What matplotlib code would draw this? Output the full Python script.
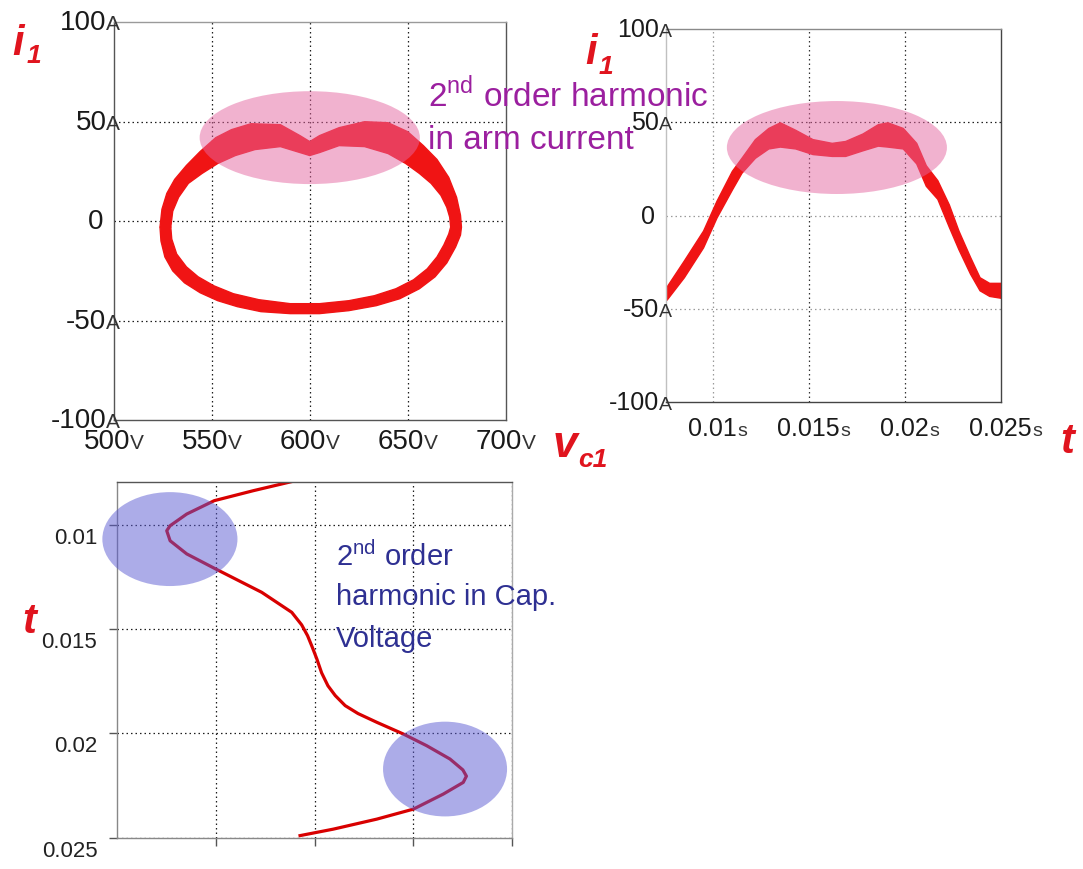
import matplotlib
matplotlib.use("Agg")
import matplotlib.pyplot as plt
from matplotlib.patches import Ellipse
from matplotlib.offsetbox import TextArea, HPacker, AnnotationBbox

plt.rcParams["font.family"] = ["Liberation Sans", "DejaVu Sans"]

W, H = 1083, 870

# i1 against vc1: edges of the ripple band, upper half (i > 0) and lower half
up_outer_v = [523.5, 524.5, 527, 531, 537, 544, 552, 560, 570, 585, 595, 600, 605, 615, 628, 640, 650, 658, 665, 671, 675, 677, 677.5]
up_outer_i = [-3, 6, 14, 21, 28, 35, 42, 46, 49, 48.5, 43, 40, 43, 47, 50, 49.5, 45, 38, 31, 22, 12, 3, -3]
up_inner_v = [529, 530, 533, 538, 545, 553, 562, 572, 585, 595, 600, 605, 615, 628, 640, 649, 656, 662, 667, 670, 671.5, 672]
up_inner_i = [-3, 5, 12, 19, 24, 29, 33, 36, 37.5, 34.5, 33, 34.5, 38, 37.5, 34, 29, 24, 19, 13, 7, 2, -3]
low_outer_v = [523.5, 524, 526, 530, 536, 544, 553, 563, 575, 590, 605, 620, 634, 646, 656, 664, 670, 674.5, 677, 677.5]
low_outer_i = [-3, -10, -18, -25, -31, -36, -40, -43, -45.5, -46.5, -46.5, -45, -42.5, -39, -34, -28, -21, -13, -7, -3]
low_inner_v = [529, 529.5, 532, 537, 543, 551, 561, 574, 590, 605, 620, 633, 644, 653, 660, 665, 668.5, 671, 672]
low_inner_i = [-3, -9, -16.5, -23, -28, -32.5, -36.5, -39.5, -41.5, -41.5, -40, -37.5, -34, -29.5, -24, -18, -12, -6.5, -3]

# i1 against time: top / bottom of the ripple band
t_arm = [0.0076, 0.0085, 0.0095, 0.0102, 0.0110, 0.0115, 0.0122, 0.0129, 0.0135, 0.0143, 0.0152, 0.0162,
         0.0169, 0.0178, 0.0186, 0.0191, 0.0199, 0.0206, 0.0211, 0.0217, 0.0223, 0.0228, 0.0234, 0.0239, 0.0244, 0.0250]
i_arm_hi = [-38, -24, -8, 8, 24, 31, 41, 47, 50, 46, 41, 39, 40, 44, 49, 50, 47, 39, 27, 19, 6, -8, -22, -33, -36, -36]
i_arm_lo = [-45, -33, -17, -1, 14, 23, 31, 36, 37, 36, 33, 32, 32, 35, 37.5, 37, 36, 28, 16, 9, -6, -18, -31, -40, -43, -44]

# capacitor voltage against time
t_cap = [0.00784, 0.00837, 0.00885, 0.00949, 0.01005, 0.01029, 0.01077, 0.0114, 0.01212, 0.01324, 0.0142,
         0.0148, 0.01532, 0.0159, 0.01644, 0.0171, 0.01772, 0.01819, 0.01867, 0.01905, 0.01947, 0.02003,
         0.02059, 0.02123, 0.02175, 0.02205, 0.02235, 0.02291, 0.02363, 0.02411, 0.02459, 0.0249]
v_cap = [592.7, 569.1, 549.3, 535.4, 527.0, 525.3, 527.0, 535.4, 550.0, 573.3, 588.5,
         593.5, 596.5, 599.0, 601.2, 603.6, 606.8, 610.5, 615.5, 622.0, 631.5, 644.9,
         656.7, 668.5, 675.0, 676.8, 675.2, 665.1, 650.0, 631.5, 609.5, 592.7]

v_ticks = [500, 550, 600, 650, 700]
i_ticks = [100, 50, 0, -50, -100]
t_ticks = [0.01, 0.015, 0.02, 0.025]
t_tick_text = ["0.01", "0.015", "0.02", "0.025"]

RED = "#f01414"
LABEL_RED = "#e0141e"
PINK = "#e566a0"
BLUE = "#5a5ad2"
PURPLE = "#9b1f9f"
NAVY = "#2e3092"
DOT = (0, (1.2, 2.4))


def unit_label(ax, num, unit, xy, trans, align, offset, size, usize):
    parts = [TextArea(num, textprops=dict(fontsize=size, color="#1a1a1a"))]
    if unit:
        parts.append(TextArea(unit, textprops=dict(fontsize=usize, color="#333333")))
    box = HPacker(children=parts, align="baseline", pad=0, sep=0)
    ab = AnnotationBbox(box, xy, xycoords=trans, xybox=offset, boxcoords="offset points",
                        box_alignment=align, frameon=False, pad=0, annotation_clip=False)
    ax.add_artist(ab)


def fig_text(x, y, s, **kw):
    fig.text(x / W, 1 - y / H, s, va="baseline", **kw)


def style_spines(ax, colors):
    for side, c in colors.items():
        ax.spines[side].set_color(c)
        ax.spines[side].set_linewidth(1.0)


fig = plt.figure(figsize=(W / 100, H / 100), dpi=100)

# --- i1 vs vc1 ---
ax1 = fig.add_axes([114 / W, 1 - 421 / H, 391.5 / W, 397.7 / H])
ax1.set_xlim(500, 700)
ax1.set_ylim(-100, 100)
ax1.set_xticks([550, 600, 650])
ax1.set_yticks([-50, 0, 50])
ax1.tick_params(length=0, labelbottom=False, labelleft=False)
ax1.grid(True, color="#1e1e1e", linestyle=DOT, linewidth=0.9)
ax1.set_axisbelow(True)
ax1.fill(up_outer_v + up_inner_v[::-1], up_outer_i + up_inner_i[::-1], color=RED, lw=1, zorder=2)
ax1.fill(low_outer_v + low_inner_v[::-1], low_outer_i + low_inner_i[::-1], color=RED, lw=1, zorder=2)
ax1.add_patch(Ellipse((600, 42), 112.5, 46.7, facecolor=PINK, alpha=0.5, edgecolor="none", zorder=3))
style_spines(ax1, {"top": "#9a9a9a", "left": "#555555", "right": "#555555", "bottom": "#555555"})
for v in v_ticks:
    unit_label(ax1, str(v), "V", (v, 0), ax1.get_xaxis_transform(), (0.5, 1), (0, -6), 20, 15)
for i in i_ticks:
    unit_label(ax1, str(i), "A" if i else "", (0, i), ax1.get_yaxis_transform(), (1, 0.5),
               (4.5, 0) if i else (-8, 0), 20, 15)

# --- i1 vs t ---
ax2 = fig.add_axes([666 / W, 1 - 403.3 / H, 334.7 / W, 373.3 / H])
ax2.set_xlim(0.00757, 0.025)
ax2.set_ylim(-100, 100)
ax2.set_xticks([0.01, 0.015, 0.02])
ax2.set_yticks([-50, 0, 50])
ax2.tick_params(length=0, labelbottom=False, labelleft=False)
ax2.grid(True, linestyle=DOT, linewidth=0.9)
ax2.set_axisbelow(True)
for ln, c in zip(ax2.get_xgridlines(), ["#9a9a9a", "#333333", "#333333"]):
    ln.set_color(c)
for ln, c in zip(ax2.get_ygridlines(), ["#9a9a9a", "#9a9a9a", "#222222"]):
    ln.set_color(c)
ax2.fill_between(t_arm, i_arm_lo, i_arm_hi, color=RED, lw=1, zorder=2)
ax2.add_patch(Ellipse((0.01647, 36.5), 0.01146, 49.8, facecolor=PINK, alpha=0.5, edgecolor="none", zorder=3))
style_spines(ax2, {"top": "#8a8a8a", "left": "#c0c0c0", "right": "#444444", "bottom": "#444444"})
for t, s in zip(t_ticks, t_tick_text):
    unit_label(ax2, s, "s", (t, 0), ax2.get_xaxis_transform(), (0.5, 1), (3.5, -10), 18, 14)
for i in i_ticks:
    unit_label(ax2, str(i), "A" if i else "", (0, i), ax2.get_yaxis_transform(), (1, 0.5),
               (4.5, 0) if i else (-8, 0), 18, 14)

# --- t vs vc1 ---
ax3 = fig.add_axes([116.7 / W, 1 - 838.7 / H, 395.6 / W, 356 / H])
ax3.set_xlim(500, 700)
ax3.set_ylim(0.025, 0.00794)
ax3.set_xticks([550, 600, 650, 700])
ax3.set_yticks(t_ticks)
ax3.tick_params(direction="out", length=6, width=1, color="#555555", labelbottom=False, labelleft=False)
ax3.grid(True, color="#1e1e1e", linestyle=DOT, linewidth=0.9)
ax3.set_axisbelow(True)
ax3.plot(v_cap, t_cap, color="#d80000", lw=2.3, zorder=2)
ax3.add_patch(Ellipse((526.9, 0.01069), 68.3, 0.0045, facecolor=BLUE, alpha=0.5,
                      edgecolor="none", zorder=3, clip_on=False))
ax3.add_patch(Ellipse((666, 0.02171), 62.7, 0.00454, facecolor=BLUE, alpha=0.5,
                      edgecolor="none", zorder=3, clip_on=False))
style_spines(ax3, {"top": "#555555", "left": "#888888", "right": "#aaaaaa", "bottom": "#888888"})
for t, s in zip(t_ticks, t_tick_text):
    ax3.annotate(s, (0, t), xycoords=ax3.get_yaxis_transform(), xytext=(-14, -9),
                 textcoords="offset points", ha="right", va="center", fontsize=16,
                 color="#222222", annotation_clip=False)

# axis names
red = dict(color=LABEL_RED, fontweight="bold", style="italic")
fig_text(12, 55, "i", fontsize=30, **red)
fig_text(27, 63, "1", fontsize=19, **red)
fig_text(553, 457, "v", fontsize=32, **red)
fig_text(578, 467, "c1", fontsize=19, **red)
fig_text(585, 64, "i", fontsize=30, **red)
fig_text(599, 74, "1", fontsize=19, **red)
fig_text(1060, 453, "t", fontsize=30, **red)
fig_text(22, 633, "t", fontsize=30, **red)

# callouts
fig_text(428, 107, "2$^{\\mathregular{nd}}$ order harmonic", fontsize=24, color=PURPLE)
fig_text(428, 149, "in arm current", fontsize=24, color=PURPLE)
fig_text(336, 566, "2$^{\\mathregular{nd}}$ order", fontsize=21, color=NAVY)
fig_text(336, 605, "harmonic in Cap.", fontsize=21, color=NAVY)
fig_text(336, 647, "Voltage", fontsize=21, color=NAVY)

fig.savefig("out.png", dpi=100)
